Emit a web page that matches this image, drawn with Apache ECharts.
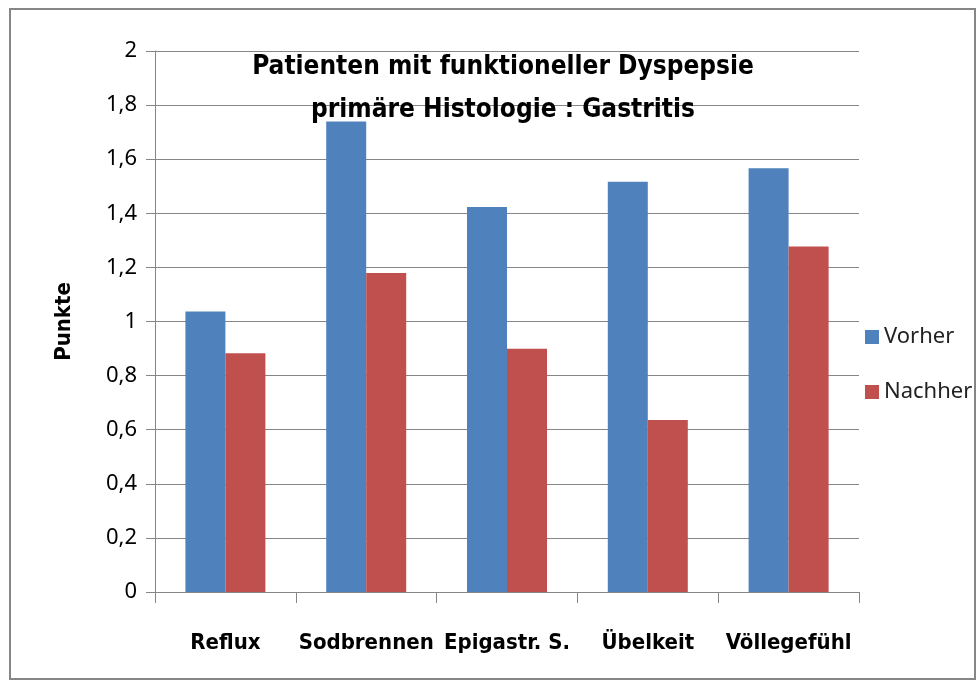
<!DOCTYPE html>
<html>
<head>
<meta charset="utf-8">
<script src="https://cdn.jsdelivr.net/npm/echarts@6/dist/echarts.min.js"></script>
<style>
  html, body { margin: 0; padding: 0; background: #fff; }
  #chart { width: 979px; height: 681px; }
</style>
</head>
<body>
<div id="chart"></div>
<script>
const categories = ['Reflux', 'Sodbrennen', 'Epigastr. S.', 'Übelkeit', 'Völlegefühl']
const vorher = [1.037, 1.739, 1.423, 1.517, 1.567]
const nachher = [0.883, 1.179, 0.899, 0.636, 1.277]
const titleLines = ['Patienten mit funktioneller Dyspepsie', 'primäre Histologie : Gastritis']

const gray = '#868686'
const condensed = '"DejaVu Sans Condensed", sans-serif'

const myChart = echarts.init(document.getElementById('chart'))

const option = {
  animation: false,
  backgroundColor: '#fff',
  title: {
    text: titleLines.join('\n'),
    left: 498,
    top: 41,
    textAlign: 'center',
    textStyle: {
      fontFamily: condensed,
      fontWeight: 'bold',
      fontSize: 26,
      lineHeight: 43,
      color: '#000',
    },
  },
  legend: {
    orient: 'vertical',
    left: 860,
    top: 321,
    itemWidth: 14,
    itemHeight: 14,
    itemGap: 33,
    icon: 'rect',
    textStyle: { fontFamily: 'Noto Sans', fontSize: 22, color: '#222' },
    data: ['Vorher', 'Nachher'],
  },
  grid: { left: 155, right: 120, top: 51, bottom: 89, containLabel: false },
  xAxis: {
    type: 'category',
    data: categories,
    axisLine: { lineStyle: { color: gray, width: 1 } },
    axisTick: { show: true, length: 11, lineStyle: { color: gray } },
    axisLabel: {
      interval: 0,
      margin: 40,
      fontFamily: condensed,
      fontWeight: 'bold',
      fontSize: 22,
      color: '#000',
    },
  },
  yAxis: {
    type: 'value',
    min: 0,
    max: 2,
    interval: 0.2,
    name: 'Punkte',
    nameLocation: 'middle',
    nameGap: 80,
    nameTextStyle: { fontFamily: condensed, fontWeight: 'bold', fontSize: 22, color: '#000' },
    axisLine: { show: true, lineStyle: { color: gray, width: 1 } },
    axisTick: { show: true, length: 9, inside: false, lineStyle: { color: gray } },
    splitLine: { lineStyle: { color: gray, width: 1 } },
    axisLabel: {
      margin: 18,
      fontFamily: 'Noto Sans',
      fontSize: 22,
      color: '#000',
      formatter: (v) => String(Math.round(v * 10) / 10).replace('.', ','),
    },
  },
  series: [
    {
      name: 'Vorher',
      type: 'bar',
      data: vorher,
      barWidth: 40,
      barGap: '0%',
      itemStyle: { color: '#4F81BD' },
    },
    {
      name: 'Nachher',
      type: 'bar',
      data: nachher,
      barWidth: 40,
      barGap: '0%',
      itemStyle: { color: '#C0504D' },
    },
  ],
  graphic: [
    {
      type: 'rect',
      shape: { x: 10, y: 9, width: 965, height: 670 },
      style: { fill: 'none', stroke: gray, lineWidth: 2 },
      z: 100,
    },
  ],
}

myChart.setOption(option)
</script>
</body>
</html>
